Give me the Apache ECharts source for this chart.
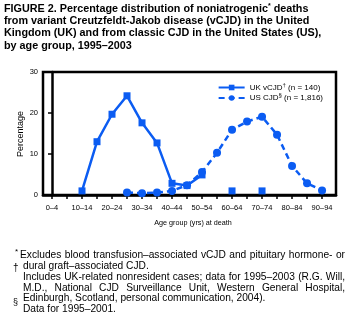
<!DOCTYPE html>
<html><head><meta charset="utf-8">
<script src="https://cdn.jsdelivr.net/npm/echarts@6/dist/echarts.min.js"></script>
<style>html,body{margin:0;padding:0;background:#fff}#c{width:355px;height:324px}</style>
</head><body><div id="c"></div>
<script>
var categories = ["0–4","5–9","10–14","15–19","20–24","25–29","30–34","35–39","40–44","45–49","50–54","55–59","60–64","65–69","70–74","75–79","80–84","85–89","90–94"];
var ukVCJD = [null,null,1.0,13.0,19.7,24.2,17.6,12.7,2.85,2.3,4.9,null,1.0,null,1.0,null,null,null,null];
var usCJD = [null,null,null,null,null,0.6,0.4,0.6,1.0,2.4,5.6,10.3,15.9,17.9,19.1,14.7,7.1,2.85,1.1];
var yTicks = [0,10,20,30];

var blue = '#0b5cf2';
var FONT = 'Liberation Sans, Arial, sans-serif';
function pairs(arr){ return arr.map(function(v,i){ return [i, v]; }); }
var tickVals = categories.map(function(c,i){return i;});
var labelVals = tickVals.filter(function(i){return i%2===0;});

var chart = echarts.init(document.getElementById('c'), null, {renderer:'canvas'});
var titleLines = [
  'FIGURE 2. Percentage distribution of noniatrogenic{s|*} deaths',
  'from variant Creutzfeldt-Jakob disease (vCJD) in the United',
  'Kingdom (UK) and from classic CJD in the United States (US),',
  'by age group, 1995–2003'
];
var FOOTFONT = '10.2px ' + FONT;
var foot = [
  {x:20, y:255, t:'Excludes blood transfusion–associated vCJD and pituitary hormone- or', j:true},
  {x:23, y:266, t:'dural graft–associated CJD.', j:false},
  {x:23, y:277, t:'Includes UK-related nonresident cases; data for 1995–2003 (R.G. Will,', j:true},
  {x:23, y:288, t:'M.D., National CJD Surveillance Unit, Western General Hospital,', j:true},
  {x:23, y:298, t:'Edinburgh, Scotland, personal communication, 2004).', j:false},
  {x:23, y:309, t:'Data for 1995–2001.', j:false}
];
var symbols = [
  {x:15, y:252, t:'*', f:'8px '+FONT},
  {x:13, y:268, t:'†', f:'10px '+FONT},
  {x:13, y:303, t:'§', f:'9px '+FONT}
];
var RIGHT_EDGE = 345;
var mctx = document.createElement('canvas').getContext('2d');
mctx.font = FOOTFONT;
var graphics = [];
titleLines.forEach(function(t,i){
  graphics.push({type:'text', left:4, top:3+i*12.4, style:{text:t, font:'bold 10.8px '+FONT, fill:'#000',
    rich:{s:{font:'bold 7px '+FONT, verticalAlign:'top', padding:[0,0,5,0]}}}});
});
foot.forEach(function(f){
  if (!f.j) {
    graphics.push({type:'text', x:f.x, y:f.y, style:{text:f.t, font:FOOTFONT, fill:'#000', verticalAlign:'middle'}});
    return;
  }
  var words = f.t.split(' ');
  var widths = words.map(function(w){ return mctx.measureText(w).width; });
  var total = widths.reduce(function(a,b){return a+b;},0);
  var gap = (RIGHT_EDGE - f.x - total) / (words.length - 1);
  var sp = mctx.measureText(' ').width;
  if (gap < sp) gap = sp;
  var cx = f.x;
  words.forEach(function(w,k){
    graphics.push({type:'text', x:cx, y:f.y, style:{text:w, font:FOOTFONT, fill:'#000', verticalAlign:'middle'}});
    cx += widths[k] + gap;
  });
});
symbols.forEach(function(s){
  graphics.push({type:'text', x:s.x, y:s.y, style:{text:s.t, font:s.f, fill:'#000', verticalAlign:'middle'}});
});
graphics.push({type:'text', x:21, y:134, rotation:Math.PI/2, style:{text:'Percentage', font:'9px '+FONT, fill:'#000', align:'center', verticalAlign:'middle'}});
graphics.push({type:'text', x:193, y:223, style:{text:'Age group (yrs) at death', font:'7.2px '+FONT, fill:'#000', align:'center', verticalAlign:'middle'}});

chart.setOption({
  animation:false,
  textStyle:{fontFamily:FONT},
  grid:{left:43, right:19, top:72, bottom:129, show:true, borderColor:'#000', borderWidth:2.5, backgroundColor:'transparent'},
  legend:{
    right:27, top:77, orient:'vertical', itemGap:1, itemWidth:26, itemHeight:7,
    textStyle:{fontSize:8, color:'#000', rich:{sup:{fontSize:6, padding:[0,0,5,0]}}},
    formatter:function(n){ return n==='UK vCJD' ? 'UK vCJD{sup|†} (n = 140)' : 'US CJD{sup|§} (n = 1,816)'; },
    data:['UK vCJD','US CJD']
  },
  xAxis:{
    type:'value', min:-0.6, max:18.93,
    axisLine:{show:true, lineStyle:{color:'#000', width:2.5}},
    axisTick:{show:true, customValues:tickVals, length:4, lineStyle:{color:'#000', width:1.5}},
    axisLabel:{customValues:labelVals, fontSize:7.5, color:'#000', margin:9,
      formatter:function(v){ return categories[Math.round(v)]; }},
    splitLine:{show:false}
  },
  yAxis:{
    type:'value', min:0, max:30, interval:10,
    axisLine:{show:true, lineStyle:{color:'#000', width:2.5}},
    axisTick:{show:true, length:4, lineStyle:{color:'#000', width:1.5}},
    axisLabel:{fontSize:7.5, color:'#000', margin:5, formatter:function(v){return yTicks.indexOf(v)>=0?String(v):'';}},
    splitLine:{show:false}
  },
  series:[
    {name:'UK vCJD', type:'line', data:pairs(ukVCJD), symbol:'rect', symbolSize:7, connectNulls:false,
      lineStyle:{color:blue, width:2.5}, itemStyle:{color:blue}},
    {name:'US CJD', type:'line', data:pairs(usCJD), symbol:'circle', symbolSize:8, connectNulls:false,
      lineStyle:{color:blue, width:2.5, type:[6,4]}, itemStyle:{color:blue}}
  ],
  graphic:graphics
});
</script></body></html>
